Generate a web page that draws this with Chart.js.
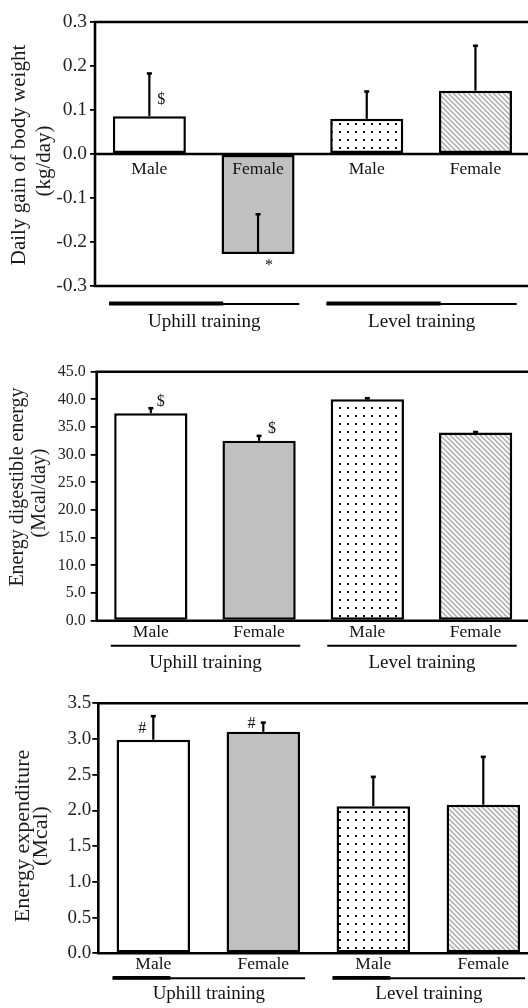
<!DOCTYPE html>
<html><head><meta charset="utf-8">
<script src="https://cdn.jsdelivr.net/npm/chart.js@4.4.1/dist/chart.umd.min.js"></script>
<style>
html,body{margin:0;padding:0;background:#fff;overflow:hidden;}
#wrap{position:relative;width:528px;height:1008px;overflow:hidden;background:#fff;}
canvas{position:absolute;left:0;}
</style></head><body>
<div id="wrap">
<canvas id="c1" width="545" height="340" style="top:0px;width:545px;height:340px"></canvas>
<canvas id="c2" width="545" height="340" style="top:340px;width:545px;height:340px"></canvas>
<canvas id="c3" width="545" height="328" style="top:680px;width:545px;height:328px"></canvas>
</div>
<script>
// ---- data ----
const categories = ['Male', 'Female', 'Male', 'Female'];
const groups = ['Uphill training', 'Level training'];

const gainValues = [0.086, -0.227, 0.080, 0.144];
const gainErrors = [0.097, 0.090, 0.062, 0.102];
const gainTicks = [-0.3, -0.2, -0.1, 0, 0.1, 0.2, 0.3];
const gainTickLabels = ['-0.3', '-0.2', '-0.1', '0.0', '0.1', '0.2', '0.3'];
const gainMarks = ['$', '*', null, null];
const gainMarkValues = [0.123, -0.254, null, null];
const gainTitle = ['Daily gain of body weight', '(kg/day)'];

const digestValues = [37.5, 32.5, 40.0, 34.0];
const digestErrors = [0.9, 0.9, 0.2, 0.1];
const digestTicks = [0, 5, 10, 15, 20, 25, 30, 35, 40, 45];
const digestTickLabels = ['0.0', '5.0', '10.0', '15.0', '20.0', '25.0', '30.0', '35.0', '40.0', '45.0'];
const digestMarks = ['$', '$', null, null];
const digestMarkValues = [39.6, 34.6, null, null];
const digestTitle = ['Energy digestible energy', '(Mcal/day)'];

const expendValues = [2.99, 3.10, 2.06, 2.08];
const expendErrors = [0.33, 0.13, 0.41, 0.67];
const expendTicks = [0, 0.5, 1.0, 1.5, 2.0, 2.5, 3.0, 3.5];
const expendTickLabels = ['0.0', '0.5', '1.0', '1.5', '2.0', '2.5', '3.0', '3.5'];
const expendMarks = ['#', '#', null, null];
const expendMarkValues = [3.15, 3.22, null, null];
const expendTitle = ['Energy expenditure', '(Mcal)'];

// ---- patterns ----
function dotPattern() {
  const c = document.createElement('canvas'); c.width = 8; c.height = 8;
  const x = c.getContext('2d');
  x.fillStyle = '#fff'; x.fillRect(0, 0, 8, 8);
  x.fillStyle = '#111'; x.fillRect(3, 3, 2, 2);
  return x.createPattern(c, 'repeat');
}
function hatchPattern() {
  const s = 5;
  const c = document.createElement('canvas'); c.width = s; c.height = s;
  const x = c.getContext('2d');
  x.fillStyle = '#fff'; x.fillRect(0, 0, s, s);
  x.strokeStyle = '#b4b4b4'; x.lineWidth = 1.7;
  x.beginPath();
  x.moveTo(-1, -1); x.lineTo(s + 1, s + 1);
  x.moveTo(-1, s - 1); x.lineTo(1, s + 1);
  x.moveTo(s - 1, -1); x.lineTo(s + 1, 1);
  x.stroke();
  return x.createPattern(c, 'repeat');
}
const fills = ['#ffffff', '#c0c0c0', dotPattern(), hatchPattern()];
const SERIF = '"Liberation Serif", "DejaVu Serif", serif';

function makePanel(id, cfg) {
  const canvas = document.getElementById(id);
  const W = canvas.width, H = canvas.height, A = cfg.area;
  const plugin = {
    id: 'decor' + id,
    afterDatasetsDraw(chart) {
      const ctx = chart.ctx, ca = chart.chartArea;
      const xs = chart.scales.x, ys = chart.scales.y;
      const meta = chart.getDatasetMeta(0);
      ctx.save();
      // frame
      ctx.strokeStyle = '#000'; ctx.lineWidth = 2.6; ctx.lineCap = 'square';
      ctx.beginPath();
      ctx.moveTo(ca.left, ca.top); ctx.lineTo(ca.right + 20, ca.top);
      ctx.moveTo(ca.left, ca.top); ctx.lineTo(ca.left, ca.bottom);
      ctx.moveTo(ca.left, ca.bottom); ctx.lineTo(ca.right + 20, ca.bottom);
      if (ys.min < 0) {
        const z = ys.getPixelForValue(0);
        ctx.moveTo(ca.left, z); ctx.lineTo(ca.right + 20, z);
      }
      ctx.stroke();
      // error bars
      ctx.lineCap = 'butt';
      cfg.values.forEach((v, i) => {
        const bx = meta.data[i].x;
        const y0 = ys.getPixelForValue(v), y1 = ys.getPixelForValue(v + cfg.errors[i]);
        ctx.lineWidth = 2.2;
        ctx.beginPath(); ctx.moveTo(bx, y0); ctx.lineTo(bx, y1); ctx.stroke();
        ctx.lineWidth = 2.6;
        ctx.beginPath(); ctx.moveTo(bx - 2.5, y1); ctx.lineTo(bx + 2.5, y1); ctx.stroke();
      });
      // significance marks
      ctx.fillStyle = '#111';
      ctx.textAlign = 'center'; ctx.textBaseline = 'middle';
      ctx.font = cfg.markFont + 'px ' + SERIF;
      cfg.marks.forEach((m, i) => {
        if (!m) return;
        ctx.fillText(m, meta.data[i].x + cfg.markOffsets[i], ys.getPixelForValue(cfg.markValues[i]));
      });
      // category labels inside plot (top panel)
      if (cfg.innerLabels) {
        ctx.font = cfg.catFont + 'px ' + SERIF;
        const z = ys.getPixelForValue(0);
        categories.forEach((c, i) => ctx.fillText(c, xs.getPixelForValue(i), z + 15));
      }
      // group lines and labels
      const sp = xs.getPixelForValue(1) - xs.getPixelForValue(0);
      groups.forEach((g, gi) => {
        const x0 = xs.getPixelForValue(gi * 2) - 0.37 * sp;
        const x1 = xs.getPixelForValue(gi * 2 + 1) + 0.38 * sp;
        const ly = ca.bottom + cfg.groupLineDy;
        ctx.lineWidth = 2;
        ctx.beginPath(); ctx.moveTo(x0, ly); ctx.lineTo(x1, ly); ctx.stroke();
        if (cfg.thickFrac > 0) {
          ctx.lineWidth = 3.8;
          ctx.beginPath(); ctx.moveTo(x0, ly - 0.5); ctx.lineTo(x0 + (x1 - x0) * cfg.thickFrac, ly - 0.5); ctx.stroke();
        }
        ctx.font = cfg.groupFont + 'px ' + SERIF;
        ctx.fillText(g, (x0 + x1) / 2, ca.bottom + cfg.groupLabelDy);
      });
      // y-axis title (two rotated lines, baseline positioned, centred on titleY)
      ctx.fillStyle = '#1a1a1a';
      ctx.textAlign = 'center';
      ctx.textBaseline = 'alphabetic';
      ctx.font = cfg.titleFont + 'px ' + SERIF;
      cfg.title.forEach((t, li) => {
        ctx.save();
        ctx.translate(cfg.titleX[li], cfg.titleY[li]);
        ctx.rotate(-Math.PI / 2);
        ctx.fillText(t, 0, 0);
        ctx.restore();
      });
      ctx.restore();
    }
  };
  return new Chart(canvas, {
    type: 'bar',
    data: {
      labels: categories,
      datasets: [{
        data: cfg.values,
        backgroundColor: fills,
        borderColor: '#000',
        borderWidth: 2.5,
        borderSkipped: false,
        barPercentage: cfg.barPct,
        categoryPercentage: 1
      }]
    },
    options: {
      responsive: false,
      animation: false,
      events: [],
      layout: { padding: { left: 0, top: A.top, right: W - A.right, bottom: H - A.bottom - cfg.xh } },
      plugins: { legend: { display: false }, tooltip: { enabled: false } },
      scales: {
        x: {
          offset: true,
          afterFit: s => { s.height = cfg.xh; },
          grid: { display: false, drawTicks: false },
          border: { display: false },
          ticks: { display: !cfg.innerLabels, color: '#111', padding: cfg.xPad, font: { family: SERIF, size: cfg.catFont } }
        },
        y: {
          min: cfg.ticks[0], max: cfg.ticks[cfg.ticks.length - 1],
          afterBuildTicks: s => { s.ticks = cfg.ticks.map(v => ({ value: v })); },
          afterFit: s => { s.width = A.left; },
          grid: { display: true, drawOnChartArea: false, drawTicks: true, tickLength: cfg.tickLen, color: '#000', lineWidth: 1.8 },
          border: { display: false },
          ticks: { autoSkip: false, color: '#222', padding: cfg.yPad, font: { family: SERIF, size: cfg.tickFont },
                   callback: (v, i) => cfg.tickLabels[i] },
          title: { display: false }
        }
      }
    },
    plugins: [plugin]
  });
}

makePanel('c1', {
  values: gainValues, errors: gainErrors, ticks: gainTicks, tickLabels: gainTickLabels,
  marks: gainMarks, markValues: gainMarkValues, markOffsets: [12, 11, 0, 0], markFont: 16,
  area: { left: 95, top: 22, right: 529.8, bottom: 286 }, xh: 20, xPad: 0,
  innerLabels: true, catFont: 17.5, tickFont: 19.5, tickLen: 5, yPad: 3, titleFont: 21, groupFont: 19,
  title: gainTitle, titleX: [25, 50], titleY: [155, 161], barPct: 0.672,
  groupLineDy: 18, groupLabelDy: 36, thickFrac: 0.6
});
makePanel('c2', {
  values: digestValues, errors: digestErrors, ticks: digestTicks, tickLabels: digestTickLabels,
  marks: digestMarks, markValues: digestMarkValues, markOffsets: [10, 13, 0, 0], markFont: 16,
  area: { left: 96.7, top: 31.7, right: 529.7, bottom: 280.7 }, xh: 25, xPad: 1,
  innerLabels: false, catFont: 17.5, tickFont: 16, tickLen: 6, yPad: 5, titleFont: 20, groupFont: 19,
  title: digestTitle, titleX: [23, 45], titleY: [147, 153], barPct: 0.677,
  groupLineDy: 25, groupLabelDy: 42, thickFrac: 0
});
makePanel('c3', {
  values: expendValues, errors: expendErrors, ticks: expendTicks, tickLabels: expendTickLabels,
  marks: expendMarks, markValues: expendMarkValues, markOffsets: [-11, -11.7, 0, 0], markFont: 16,
  area: { left: 98.3, top: 23.3, right: 538.3, bottom: 273.3 }, xh: 25, xPad: 1,
  innerLabels: false, catFont: 17.5, tickFont: 19, tickLen: 6, yPad: 1, titleFont: 22, groupFont: 19,
  title: expendTitle, titleX: [29, 47], titleY: [156, 156], barPct: 0.668,
  groupLineDy: 25, groupLabelDy: 41, thickFrac: 0.3
});
</script>
</body></html>
